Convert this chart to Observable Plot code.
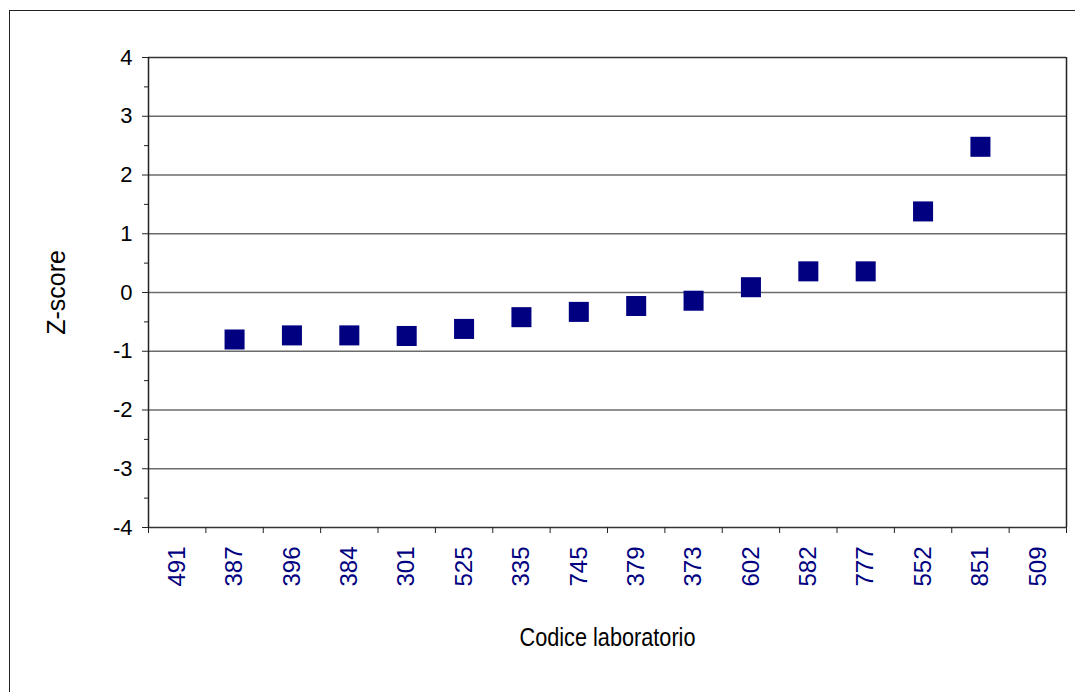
<!DOCTYPE html>
<html>
<head>
<meta charset="utf-8">
<script src="https://cdn.jsdelivr.net/npm/d3@7"></script>
<script src="https://cdn.jsdelivr.net/npm/@observablehq/plot@0.6"></script>
<style>
  html, body { margin: 0; padding: 0; background: #fff; overflow: hidden; }
  #wrap { position: relative; width: 1075px; height: 692px; }
  #frame { position: absolute; left: 9px; top: 10px; width: 1200px; height: 800px;
           border-left: 1.5px solid #222; border-top: 1.5px solid #222; pointer-events: none; }
  svg { font-family: "Liberation Sans", Arial, sans-serif; }
  g[aria-label="x-axis tick label"] text { fill: #000080; font-size: 24px; }
  g[aria-label="y-axis tick label"] text { fill: #000; font-size: 22px; }
</style>
</head>
<body>
<div id="wrap"><div id="chart"></div><div id="frame"></div></div>
<script>
// Lab codes (categories, in plot order)
const labCodes = ["491","387","396","384","301","525","335","745","379","373","602","582","777","552","851","509"];
// Z-score values per lab (null = no point drawn)
const zScores = [null,-0.80,-0.73,-0.73,-0.74,-0.62,-0.42,-0.33,-0.23,-0.14,0.09,0.36,0.36,1.38,2.48,null];
// Axis ticks
const yMajorTicks = [-4,-3,-2,-1,0,1,2,3,4];
const yMinorTicks = [-3.5,-2.5,-1.5,-0.5,0.5,1.5,2.5,3.5];
const yGridLines = [-3,-2,-1,0,1,2,3];
const xTitle = "Codice laboratorio";
const yTitle = "Z-score";

const pts = labCodes.map((c, i) => ({code: c, pos: i + 0.5, z: zScores[i]})).filter(d => d.z != null);
const labelPos = labCodes.map((c, i) => i + 0.5);
const boundaries = d3.range(labCodes.length + 1);

const chart = Plot.plot({
  width: 1075,
  height: 692,
  marginLeft: 148,
  marginRight: 9,
  marginTop: 57,
  marginBottom: 165,
  x: {domain: [0, labCodes.length], axis: null},
  y: {domain: [-4, 4], axis: null},
  marks: [
    Plot.ruleY(yGridLines, {stroke: "#6b6b6b", strokeWidth: 1.5}),
    Plot.ruleY([4], {stroke: "#333", strokeWidth: 1.5}),
    Plot.ruleY([-4], {stroke: "#333", strokeWidth: 1.5}),
    Plot.ruleX([0], {stroke: "#222", strokeWidth: 1.5}),
    Plot.ruleX([labCodes.length], {stroke: "#222", strokeWidth: 1.5}),
    // y axis: major ticks with labels, minor ticks without
    Plot.axisY(yMajorTicks, {tickSize: 6, tickPadding: 10, tickFormat: d => String(d), label: null, stroke: "#222"}),
    Plot.axisY(yMinorTicks, {tickSize: 4, tickFormat: () => "", label: null, stroke: "#222"}),
    // x axis: tick marks at band boundaries, labels at band centers
    Plot.axisX(boundaries, {tickSize: 6, tickFormat: () => "", label: null, stroke: "#222"}),
    Plot.axisX(labelPos, {tickSize: 0, tickPadding: 19, tickRotate: -90, tickFormat: d => labCodes[Math.round(d - 0.5)], label: null}),
    Plot.dot(pts, {x: "pos", y: "z", symbol: "square", r: 11.3, fill: "#000080", stroke: "none"}),
    Plot.text([xTitle], {frameAnchor: "bottom", textAnchor: "middle", dy: 110.5, lineAnchor: "middle", fontSize: 25, fill: "#000"}),
    Plot.text([yTitle], {frameAnchor: "left", textAnchor: "middle", dx: -92, rotate: -90, lineAnchor: "middle", fontSize: 25, fill: "#000"})
  ]
});
document.getElementById("chart").appendChild(chart);
// condense the x-axis title horizontally, as in the original
d3.select(chart).selectAll("text").filter(function() { return this.textContent === xTitle; })
  .attr("textLength", 176).attr("lengthAdjust", "spacingAndGlyphs");
</script>
</body>
</html>
